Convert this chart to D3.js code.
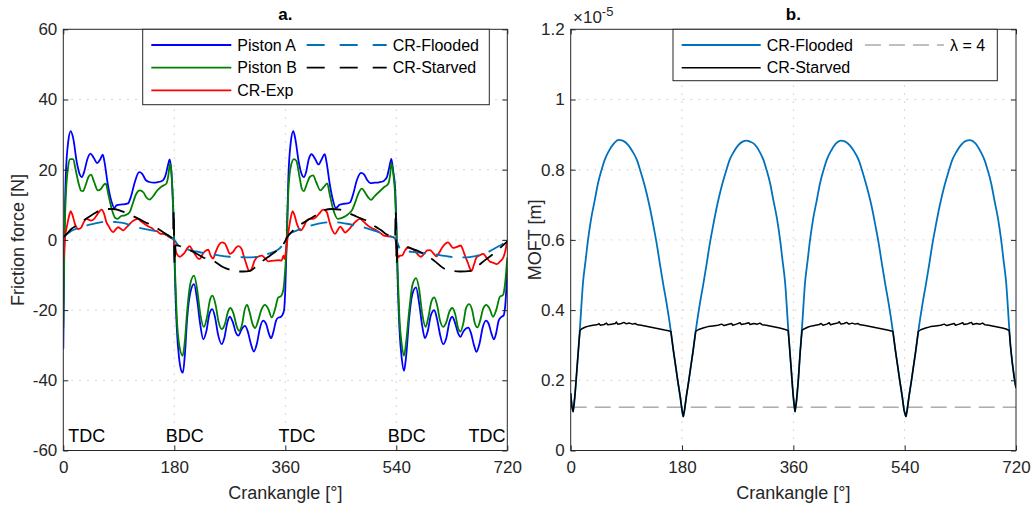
<!DOCTYPE html>
<html>
<head>
<meta charset="UTF-8">
<title>Friction force and MOFT</title>
<style>
  body { margin: 0; background: #fff; }
  svg { display: block; font-family: "Liberation Sans", Arial, Helvetica, sans-serif; }
</style>
</head>
<body>
<svg></svg>
<script src="https://d3js.org/d3.v7.min.js"></script>
<script>

// ---- panel a: friction force [N] vs crank angle [deg] ----
let pistonA = [[0,-31],[1.5,-5],[4,18],[8,28],[12,31],[16,29],[22,22],[27,18.5],[30,17.9],[34,19.5],[39,23],[44,24.6],[49,23.5],[55,21.9],[60,23],[64,24.3],[67,22],[72,16],[78,11],[83,9.1],[86,9.8],[89,10],[95,10.1],[100,10.2],[105,10.4],[110,12.5],[116,16.5],[123,19.3],[128,18.8],[134,17],[140,16.5],[146,16.3],[152,16.4],[159,16.7],[163,17.3],[166,18.5],[170,21.5],[172.5,22.9],[175,20],[177,14],[179,5],[181,-10],[184,-25],[188,-34],[192,-37.5],[194,-37.8],[197,-33],[201,-22],[206,-15],[212,-12.6],[217,-17],[222,-24],[227,-28.3],[232,-26],[237,-21],[241.6,-19.7],[246,-22],[251,-27],[256.8,-29.7],[261,-28],[266,-23.5],[270,-21.9],[275,-23.5],[280,-26.5],[284,-27.3],[289,-25.5],[294.6,-24.5],[299,-26],[304,-29.5],[309,-31.8],[314,-29.5],[319,-25],[324,-23],[329,-24],[333,-26.5],[337,-28],[341,-26],[345,-23],[349,-22.1],[352,-22],[355,-21.5],[358,-20],[360,-14],[362,-2],[365,18],[369,28],[373,31],[376,29],[382,22],[387,18.5],[390,17.9],[394,19.5],[398,23],[402.7,24.4],[408,23.2],[414,21.5],[419,23],[424,24.4],[427,22],[432,16],[437,11.5],[442,9.1],[448,10],[455,10.3],[461,10.4],[465,10.7],[470,13],[476,17],[482.7,19.1],[488,18.6],[493,17],[498,16.2],[505,16.3],[512,16.4],[519,16.7],[522,17.2],[525,18],[529,21],[532,23.1],[535,19.5],[538,15],[540,5],[542,-10],[545,-25],[549,-34],[552.5,-37.3],[556,-33],[561,-22],[566,-15.5],[572,-13.5],[577,-18],[582,-24.5],[586.5,-28],[591,-26],[596,-21.5],[601.6,-20],[606,-22.5],[611,-27],[616,-29.7],[621,-28],[626,-23.5],[630.8,-21.9],[635,-23.5],[640,-26.5],[644,-27.6],[649,-26],[656.8,-25],[661,-26.5],[666,-30],[670,-31.9],[675,-29.5],[680,-25],[685.4,-23],[690,-24],[694,-26.5],[698.4,-28.3],[702,-26.5],[706,-23],[710,-22],[714,-21.5],[717,-18],[720,-8]];

let pistonB = [[0,-25],[1.5,-3],[4,12],[8,21],[11,23],[16,23],[20,20],[25,16],[29,14],[32,13.9],[36,15.5],[41,18],[45,18.6],[50,16.5],[56,14.1],[61,14.5],[66,15.8],[69,16],[73,13],[79,8.5],[84,6.3],[88,6],[94,6.8],[100,7],[107.6,7.9],[112,10],[118,13],[124,14.1],[130,13.5],[135,12],[140,11.5],[146,12.5],[152,14],[160,15.3],[167,16],[170,18],[173,21.7],[175,20],[177,14],[179,5],[181,-8],[184,-22],[188,-30],[193.6,-33],[197,-29],[201,-20],[206,-12.5],[212,-10.2],[217,-14],[222,-21],[228,-24.8],[233,-22],[238,-17],[242,-15.9],[247,-18.5],[252,-23.5],[257,-25.4],[262,-24],[267,-20.5],[271,-19.4],[276,-21],[281,-24.5],[285,-25.9],[290,-24],[294,-20],[298,-18.5],[302,-20.5],[307,-24],[311,-25.1],[316,-23],[321,-20],[327,-18.5],[332,-19.5],[338,-22.1],[343,-20],[348.6,-16.4],[353,-16],[357,-14],[360,-8],[362,-2],[365,14],[369,21],[374,23],[378,22.5],[383,18],[387,14.5],[390,13.9],[395,16],[400,18],[405,18.4],[410,16.5],[417,14.1],[422,15],[428,16.1],[432,13],[438,8.5],[445,6],[452,6.3],[458,6.8],[463,7.5],[468,8.4],[473,10.5],[478,13],[484,14.6],[490,13.3],[495,12],[499,11.4],[505,12.5],[514,14],[520,15],[527,16],[530,18.5],[532,21.9],[535,19],[538,13],[540,4],[542,-8],[545,-22],[549,-30],[552.5,-33],[556,-29],[561,-20],[566,-13],[572,-10.9],[577,-14],[582,-21],[587.5,-24.8],[592,-22],[597,-17.5],[601.6,-16.4],[606,-18.5],[611,-23],[616,-24.8],[621,-23.5],[626,-20.5],[631,-19.4],[636,-21.5],[640,-25],[644,-26.1],[649,-23.5],[653,-19.5],[658,-18.3],[663,-20],[667,-23.5],[671.6,-24.9],[676,-23],[681,-19.5],[686,-18.5],[691,-19.5],[697,-21.9],[702,-20],[708,-16.2],[713,-15.7],[716,-13],[720,-5]];

let crExp = [[0,-6],[3,1],[6,4],[9,6.5],[12,8.2],[15,7],[19,4.5],[24,3.1],[29,3.5],[33,5],[37,6],[41,5.8],[45,5.5],[50,6],[55,7.2],[62,8.6],[66,7.5],[70,5],[74,3.8],[78,2.6],[81,2.2],[85,3],[89,3.6],[93,3.2],[97,2.7],[102,3.5],[108,4.6],[114,5.5],[121,6],[126,5.3],[132,4.5],[138,3.8],[144,3.3],[148,2.7],[152,2.5],[157,1.8],[161,1.7],[166,1.5],[170,1],[175,0.5],[178,0.3],[181,-2],[184,-4],[189,-4.8],[193,-4.3],[197,-3.6],[201,-2.4],[205,-1.8],[209,-2.8],[214,-4.2],[218,-5.2],[221.6,-5.4],[226,-4],[230,-3.2],[235,-2.8],[239,-4.5],[243,-5.3],[247,-3.5],[252,-1.5],[257,-0.7],[262,-1],[266,-2.5],[270,-4],[275,-3.5],[280,-2.2],[284,-1.8],[289,-2.5],[293,-4.8],[297,-7],[300,-8.5],[302.7,-8.8],[306,-8],[310,-6],[314,-5],[318,-4.6],[322,-4.5],[327,-5.2],[332,-6.1],[337,-6],[343,-5.9],[349,-5.8],[354,-5.9],[357,-4.5],[359,-5.5],[361,-3],[364,1],[368,5.5],[372,8.2],[375,7],[379,4.5],[385,2.7],[390,3.8],[394.6,5.5],[400,6],[405,6],[410,6.5],[415,7.5],[421.6,8.6],[427,8],[432.5,4.6],[437,2.5],[440.6,1.7],[445,2.8],[449,3.8],[453,3],[457,2.1],[462,2.8],[468,4],[474,5.2],[481,6],[487,5.2],[494.5,4],[500,3.4],[508,2.7],[514,2],[519,1.3],[527,1],[535,0.8],[538,0.5],[541,-3],[543,-5],[546,-4.5],[549,-4.5],[554,-3],[559.6,-2.1],[564,-2.4],[568,-2.8],[573,-3.8],[579.6,-4.8],[585,-4],[590,-3],[594.6,-2.9],[600,-3.8],[605,-4.7],[610,-3.5],[615,-2],[620,-1],[624,-0.7],[628,-1.5],[632,-2.3],[638,-2],[644.5,-1.6],[648,-2.8],[652,-4.8],[656,-6.5],[659,-8],[662,-8.8],[666,-7],[670,-5],[675,-4.4],[681,-4],[686,-5],[692,-6.2],[697,-6.5],[702.7,-6.9],[708,-6.2],[713.6,-5],[717,-3],[720,0]];

let crFlooded = [[0,0.5],[5,1.5],[10,2.2],[20,3.1],[30,3.8],[45,4.4],[60,5],[72.5,5.2],[85,5.1],[100,4.7],[113,3.8],[121,3.5],[135,3],[150,2.5],[157,2.2],[165,1.6],[172,1],[178,0.3],[180,0],[185,-1.2],[190,-1.8],[200,-2.6],[215,-3.3],[224,-3.6],[240,-4.1],[254,-4.5],[270,-4.8],[286,-4.9],[300,-5],[310,-4.9],[320,-4.7],[330,-4.1],[340,-3.5],[348,-2.8],[355,-1.6],[360,-0.2],[364,1],[368,1.8],[376,2.5],[384,3],[400,4],[416,4.7],[430,5],[443,5],[460,4.6],[475,4.1],[490,3.4],[508,2.4],[520,1.7],[530,1.1],[538,0.4],[540,0],[546,-2.5],[555,-3.1],[570,-3.5],[585,-3.8],[600,-4],[615,-4.5],[627,-4.8],[640,-5],[654,-5],[668,-4.6],[681,-4],[692,-3.2],[703,-2.1],[712,-1.2],[720,0]];

let crStarved = [[0,0.7],[5.5,1.7],[13,3.1],[25,4.5],[37,6],[50,7.5],[59.5,8.4],[70,8.8],[81,8.8],[90,8.5],[100,7.8],[110,7],[120,6.2],[132,5.1],[146,4],[154,3.1],[162,2.2],[170,1.3],[175,0.7],[178,0.5],[179,8.4],[180.5,-7],[182,-1.5],[186.5,-1.6],[195,-2.2],[205,-2.9],[215,-3.8],[227,-5],[243,-5.9],[259.5,-7.8],[270,-8.5],[281,-9],[292,-9],[303,-8.8],[313,-7.5],[324,-5.9],[335,-4.5],[346,-3.1],[353,-2],[359,-0.6],[362,0.5],[373,2.7],[386,4.5],[400,6],[412,7.3],[421.6,8.4],[435,8.8],[449,8.6],[462,7.7],[476,6.6],[487,5.8],[498,5],[506,3.8],[515,2.8],[524,1.6],[532,0.9],[538,0.5],[539,8.4],[540.5,-7],[542,-1.5],[548.6,-1.6],[560,-2.2],[573,-3],[587,-4.2],[600,-5.7],[616,-8],[630,-8.8],[643,-9],[662,-8.8],[675,-7],[686.5,-5.4],[695,-4.3],[703,-3.1],[712,-1.7],[720,-0.4]];

let strokeLabels = ["TDC", "BDC", "TDC", "BDC", "TDC"];
let strokeLabelAngles = [8, 166, 349, 526, 657];
let strokeLabelLevel = -57.5;

// ---- panel b: MOFT (x 1e-5 m) vs crank angle ----
let moftFlooded = [[0,0.163],[2,0.125],[4,0.111],[7,0.16],[10,0.23],[13,0.3],[15,0.35],[20,0.48],[24,0.54],[28,0.6],[33,0.66],[39,0.714],[44,0.76],[50,0.8],[55,0.828],[61,0.851],[70,0.875],[77,0.885],[85,0.882],[93,0.87],[100,0.852],[107,0.828],[113,0.795],[120,0.752],[127,0.7],[134,0.638],[139,0.59],[144,0.534],[150,0.47],[155,0.42],[162,0.339],[166,0.285],[169,0.249],[173,0.2],[177,0.154],[180,0.115],[182,0.097],[184,0.115],[187,0.154],[191,0.2],[195,0.249],[198,0.285],[202,0.339],[209,0.42],[214,0.47],[220,0.534],[225,0.59],[230,0.638],[237,0.7],[244,0.752],[251,0.795],[257,0.828],[264,0.852],[271,0.87],[278,0.88],[284.5,0.883],[291,0.879],[297,0.873],[305.6,0.851],[311.6,0.828],[316.6,0.8],[322.6,0.76],[327.6,0.714],[333.6,0.66],[338.6,0.6],[342.6,0.54],[346.6,0.48],[351.6,0.35],[353.6,0.3],[356.6,0.23],[359.6,0.16],[362.6,0.111],[365,0.14],[368,0.2],[371,0.28],[374,0.35],[379,0.48],[383,0.54],[387,0.6],[392,0.66],[398,0.714],[403,0.76],[409,0.8],[414,0.828],[420,0.851],[429,0.875],[436.5,0.883],[444,0.88],[452,0.868],[459,0.85],[466,0.826],[472,0.793],[479,0.75],[486,0.7],[493,0.638],[498,0.59],[503,0.534],[509,0.47],[514,0.42],[521,0.339],[525,0.285],[528,0.249],[532,0.2],[536,0.154],[539,0.115],[542,0.097],[544,0.115],[547,0.154],[551,0.2],[555,0.249],[558,0.285],[562,0.339],[569,0.42],[574,0.47],[580,0.534],[585,0.59],[590,0.638],[597,0.7],[604,0.752],[611,0.795],[617,0.828],[624,0.852],[631,0.87],[639,0.882],[645.6,0.884],[654,0.876],[663,0.851],[669,0.828],[674,0.8],[680,0.76],[685,0.714],[691,0.66],[696,0.6],[700,0.54],[704,0.48],[709,0.35],[711,0.3],[714,0.25],[717,0.21],[720,0.178]];

let moftStarved = [[0,0.163],[2,0.125],[4,0.111],[7,0.16],[10,0.23],[13,0.3],[15,0.342],[18,0.347],[24,0.352],[30,0.355],[36,0.357],[42,0.358],[46,0.361],[48,0.357],[54,0.359],[58,0.363],[60,0.358],[66,0.36],[72,0.362],[74,0.366],[76,0.36],[82,0.362],[86,0.365],[90,0.361],[95,0.363],[100,0.36],[104,0.362],[108,0.358],[114,0.357],[120,0.355],[128,0.352],[136,0.349],[144,0.346],[152,0.343],[158,0.341],[162,0.339],[166,0.285],[169,0.249],[173,0.2],[177,0.154],[180,0.115],[182,0.097],[184,0.115],[187,0.154],[191,0.2],[195,0.249],[198,0.285],[202,0.339],[206,0.344],[214,0.349],[222,0.353],[230,0.355],[238,0.357],[244,0.36],[248,0.356],[254,0.359],[260,0.362],[262,0.357],[268,0.36],[274,0.364],[276,0.359],[282,0.361],[288,0.364],[290,0.359],[296,0.362],[302,0.36],[306,0.363],[310,0.358],[316,0.357],[322,0.355],[330,0.352],[338,0.349],[344,0.346],[348,0.344],[351.6,0.342],[353.6,0.3],[356.6,0.23],[359.6,0.16],[362.6,0.111],[365,0.14],[368,0.2],[371,0.28],[374,0.342],[378,0.347],[384,0.352],[390,0.355],[396,0.357],[402,0.359],[405,0.362],[408,0.357],[414,0.36],[418,0.364],[420,0.358],[426,0.361],[432,0.363],[434,0.367],[437,0.36],[442,0.362],[446,0.365],[450,0.36],[455,0.363],[460,0.36],[464,0.362],[468,0.358],[474,0.357],[480,0.355],[488,0.352],[496,0.349],[504,0.346],[512,0.343],[517,0.341],[521,0.339],[525,0.285],[528,0.249],[532,0.2],[536,0.154],[539,0.115],[542,0.097],[544,0.115],[547,0.154],[551,0.2],[555,0.249],[558,0.285],[562,0.339],[566,0.344],[574,0.349],[582,0.353],[590,0.355],[598,0.357],[604,0.36],[608,0.356],[614,0.359],[620,0.362],[622,0.357],[628,0.36],[634,0.364],[636,0.359],[642,0.361],[648,0.365],[650,0.359],[656,0.362],[662,0.36],[666,0.363],[670,0.358],[676,0.357],[682,0.355],[690,0.352],[698,0.349],[704,0.346],[709,0.342],[711,0.3],[714,0.25],[717,0.21],[720,0.178]];

let lambda4 = 0.1235;

let angleTicks = [0, 180, 360, 540, 720];
let forceTicks = [-60, -40, -20, 0, 20, 40, 60];
let moftTicks = [0, 0.2, 0.4, 0.6, 0.8, 1, 1.2];

let width = 1036, height = 510;
let plotTop = 29.3, plotBottom = 450.5;

let svg = d3.select("svg")
    .attr("width", width)
    .attr("height", height);

let defs = svg.append("defs");

function drawFrame(g, x, y, yTicks, id) {
    let x0 = x.range()[0], x1 = x.range()[1];

    defs.append("clipPath").attr("id", id)
        .append("rect")
        .attr("x", x0).attr("y", plotTop)
        .attr("width", x1 - x0).attr("height", plotBottom - plotTop);

    // dotted grid
    let grid = g.append("g").attr("stroke", "#c9c9c9").attr("stroke-width", 1)
        .attr("stroke-dasharray", "1.5,6.5");
    grid.selectAll(".gx").data(angleTicks.slice(1, -1)).enter().append("line")
        .attr("x1", d => x(d)).attr("x2", d => x(d))
        .attr("y1", plotTop).attr("y2", plotBottom);
    grid.selectAll(".gy").data(yTicks.slice(1, -1)).enter().append("line")
        .attr("x1", x0).attr("x2", x1)
        .attr("y1", d => y(d)).attr("y2", d => y(d));
}

function drawAxes(g, x, y, yTicks, yFormat) {
    let x0 = x.range()[0], x1 = x.range()[1];
    let style = sel => {
        sel.select(".domain").remove();
        sel.selectAll("line").attr("stroke", "#262626");
        sel.selectAll("text").attr("fill", "#262626").style("font-size", "17px")
            .style("font-family", "'Liberation Sans', Arial, sans-serif");
    };
    g.append("g").attr("transform", `translate(0,${plotBottom})`)
        .call(d3.axisBottom(x).tickValues(angleTicks).tickFormat(d => String(d))
            .tickSizeInner(-5).tickSizeOuter(0).tickPadding(10))
        .call(style);
    g.append("g").attr("transform", `translate(0,${plotTop})`)
        .call(d3.axisTop(x).tickValues(angleTicks).tickFormat("")
            .tickSizeInner(-5).tickSizeOuter(0))
        .call(style);
    g.append("g").attr("transform", `translate(${x0},0)`)
        .call(d3.axisLeft(y).tickValues(yTicks).tickFormat(yFormat)
            .tickSizeInner(-5).tickSizeOuter(0).tickPadding(6))
        .call(style);
    g.append("g").attr("transform", `translate(${x1},0)`)
        .call(d3.axisRight(y).tickValues(yTicks).tickFormat("")
            .tickSizeInner(-5).tickSizeOuter(0))
        .call(style);

    g.append("rect")
        .attr("x", x0).attr("y", plotTop)
        .attr("width", x1 - x0).attr("height", plotBottom - plotTop)
        .attr("fill", "none").attr("stroke", "#262626").attr("stroke-width", 1);

    g.append("text")
        .attr("x", (x0 + x1) / 2).attr("y", 499)
        .attr("text-anchor", "middle")
        .attr("fill", "#262626").style("font-size", "18px")
        .text("Crankangle [°]");
}

// ================= panel a =================
let xa = d3.scaleLinear().domain([0, 720]).range([63.3, 507.3]);
let ya = d3.scaleLinear().domain([-60, 60]).range([plotBottom, plotTop]);
let ga = svg.append("g");
drawFrame(ga, xa, ya, forceTicks, "clipA");

let lineA = d3.line().x(d => xa(d[0])).y(d => ya(d[1])).curve(d3.curveMonotoneX);
let seriesA = [
    { data: pistonA, color: "#0000ff", dash: null },
    { data: pistonB, color: "#008000", dash: null },
    { data: crExp, color: "#ff0000", dash: null },
    { data: crFlooded, color: "#0072bd", dash: "17,10" },
    { data: crStarved, color: "#000000", dash: "17,10" }
];
let plotA = ga.append("g").attr("clip-path", "url(#clipA)");
seriesA.forEach(s => {
    plotA.append("path")
        .attr("d", lineA(s.data))
        .attr("fill", "none")
        .attr("stroke", s.color)
        .attr("stroke-width", 1.8)
        .attr("stroke-dasharray", s.dash)
        .attr("stroke-linejoin", "round");
});

ga.selectAll(".stroke-label").data(strokeLabels).enter().append("text")
    .attr("x", (d, i) => xa(strokeLabelAngles[i]))
    .attr("y", ya(strokeLabelLevel))
    .attr("fill", "#000").style("font-size", "18px")
    .text(d => d);

drawAxes(ga, xa, ya, forceTicks, d => String(d));

ga.append("text")
    .attr("transform", `translate(24,${(plotTop + plotBottom) / 2}) rotate(-90)`)
    .attr("text-anchor", "middle")
    .attr("fill", "#262626").style("font-size", "18px")
    .text("Friction force [N]");

ga.append("text")
    .attr("x", (xa(0) + xa(720)) / 2).attr("y", 20)
    .attr("text-anchor", "middle")
    .style("font-size", "17px").style("font-weight", "bold")
    .text("a.");

// legend a
let legA = ga.append("g");
legA.append("rect")
    .attr("x", 142.7).attr("y", plotTop).attr("width", 346.6).attr("height", 75.4)
    .attr("fill", "#fff").attr("stroke", "#262626").attr("stroke-width", 1);
let legItemsA = [
    { name: "Piston A", s: seriesA[0], col: 0, row: 0 },
    { name: "Piston B", s: seriesA[1], col: 0, row: 1 },
    { name: "CR-Exp", s: seriesA[2], col: 0, row: 2 },
    { name: "CR-Flooded", s: seriesA[3], col: 1, row: 0 },
    { name: "CR-Starved", s: seriesA[4], col: 1, row: 1 }
];
legItemsA.forEach(it => {
    let lx = it.col === 0 ? 151.3 : 306.7;
    let ly = 45 + it.row * 22.7;
    legA.append("line")
        .attr("x1", lx).attr("x2", lx + 80).attr("y1", ly).attr("y2", ly)
        .attr("stroke", it.s.color).attr("stroke-width", 1.8)
        .attr("stroke-dasharray", it.s.dash ? "18,15" : null);
    legA.append("text")
        .attr("x", lx + 86).attr("y", ly).attr("dy", "0.35em")
        .attr("fill", "#000").style("font-size", "16px")
        .text(it.name);
});

// ================= panel b =================
let xb = d3.scaleLinear().domain([0, 720]).range([570.7, 1016]);
let yb = d3.scaleLinear().domain([0, 1.2]).range([plotBottom, plotTop]);
let gb = svg.append("g");
drawFrame(gb, xb, yb, moftTicks, "clipB");

let lineB = d3.line().x(d => xb(d[0])).y(d => yb(d[1]));
let plotB = gb.append("g").attr("clip-path", "url(#clipB)");
plotB.append("line")
    .attr("x1", xb(0)).attr("x2", xb(720))
    .attr("y1", yb(lambda4)).attr("y2", yb(lambda4))
    .attr("stroke", "#808080").attr("stroke-width", 1)
    .attr("stroke-dasharray", "16,8");
plotB.append("path")
    .attr("d", lineB.curve(d3.curveMonotoneX)(moftFlooded))
    .attr("fill", "none").attr("stroke", "#0072bd").attr("stroke-width", 1.8);
plotB.append("path")
    .attr("d", lineB.curve(d3.curveLinear)(moftStarved))
    .attr("fill", "none").attr("stroke", "#000").attr("stroke-width", 1.5)
    .attr("stroke-linejoin", "round");

drawAxes(gb, xb, yb, moftTicks, d => String(d));

gb.append("text")
    .attr("transform", `translate(541,${(plotTop + plotBottom) / 2}) rotate(-90)`)
    .attr("text-anchor", "middle")
    .attr("fill", "#262626").style("font-size", "18px")
    .text("MOFT [m]");

let expo = gb.append("text")
    .attr("x", 573).attr("y", 23)
    .attr("fill", "#262626").style("font-size", "17px");
expo.append("tspan").text("×10");
expo.append("tspan").attr("dy", -7).style("font-size", "13px").text("-5");

gb.append("text")
    .attr("x", (xb(0) + xb(720)) / 2).attr("y", 20)
    .attr("text-anchor", "middle")
    .style("font-size", "17px").style("font-weight", "bold")
    .text("b.");

// legend b
let legB = gb.append("g");
legB.append("rect")
    .attr("x", 673).attr("y", plotTop).attr("width", 324.3).attr("height", 51.4)
    .attr("fill", "#fff").attr("stroke", "#262626").attr("stroke-width", 1);
let legItemsB = [
    { name: "CR-Flooded", color: "#0072bd", dash: null, lx: 681.7, row: 0, w: 1.8 },
    { name: "CR-Starved", color: "#000", dash: null, lx: 681.7, row: 1, w: 1.5 },
    { name: "\u03bb = 4", color: "#808080", dash: "16,8", lx: 865, row: 0, w: 1 }
];
legItemsB.forEach(it => {
    let ly = 45 + it.row * 22.7;
    legB.append("line")
        .attr("x1", it.lx).attr("x2", it.lx + 79).attr("y1", ly).attr("y2", ly)
        .attr("stroke", it.color).attr("stroke-width", it.w)
        .attr("stroke-dasharray", it.dash);
    legB.append("text")
        .attr("x", it.lx + 85).attr("y", ly).attr("dy", "0.35em")
        .attr("fill", "#000").style("font-size", "16px")
        .text(it.name);
});

</script>
</body>
</html>
